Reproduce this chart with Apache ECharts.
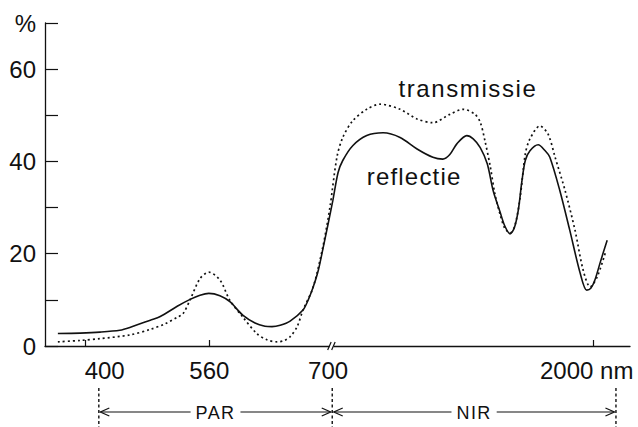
<!DOCTYPE html>
<html>
<head>
<meta charset="utf-8">
<script src="https://cdn.jsdelivr.net/npm/echarts@6/dist/echarts.min.js"></script>
<style>
  html, body { margin: 0; padding: 0; background: #fff; }
  #chart { width: 638px; height: 427px; }
</style>
</head>
<body>
<div id="chart"></div>
<script>
// Horizontal positions are on a schematic 0–100 scale (the wavelength axis is broken at 700 nm).
const reflectiePos = [2.2, 6.0, 9.4, 12.8, 14.5, 18.0, 19.7, 22.6, 24.8, 26.5, 28.0, 29.9, 31.6, 33.8, 35.9,
  37.6, 38.8, 40.2, 41.9, 44.1, 45.0, 45.8, 46.7, 47.5, 48.4, 49.2, 50.1, 50.9, 52.6, 55.0,
  57.8, 60.7, 63.6, 66.3, 68.0, 69.2, 70.4, 72.1, 73.2, 74.4, 75.6, 76.6, 77.8, 78.6, 79.5,
  80.2, 80.9, 81.5, 82.1, 82.9, 84.3, 85.5, 86.3, 88.0, 89.7, 91.5, 92.6, 93.3, 94.0, 95.0, 96.1];
const reflectieVal = [2.7, 2.8, 3.0, 3.4, 4.0, 5.6, 6.4, 8.6, 10.1, 11.0, 11.4, 10.9, 9.6, 6.7, 5.0,
  4.3, 4.2, 4.5, 5.4, 7.8, 10.0, 12.6, 16.3, 21.0, 26.5, 31.5, 37.6, 40.2, 43.4, 45.6,
  46.2, 45.2, 42.7, 40.9, 40.5, 41.5, 43.8, 45.6, 44.9, 43.0, 39.5, 33.7, 29.0, 26.0, 24.3,
  25.5, 29.4, 35.5, 40.2, 42.3, 43.6, 42.3, 40.9, 33.7, 25.1, 15.7, 12.1, 12.5, 14.3, 18.5, 22.9];

const transmissiePos = [2.2, 6.0, 9.4, 14.5, 18.0, 20.5, 22.7, 23.6, 24.8, 26.5, 28.0, 29.9, 31.6, 33.8, 36.2,
  38.0, 39.7, 40.9, 41.9, 43.1, 44.1, 45.8, 47.5, 48.7, 49.9, 50.9, 52.6, 55.0, 57.3, 60.7,
  63.6, 66.3, 69.2, 71.5, 73.5, 74.4, 75.2, 76.1, 76.9, 77.8, 78.6, 79.5, 80.3, 81.2, 82.1,
  82.9, 84.6, 86.0, 87.2, 88.9, 90.6, 92.0, 93.2, 94.4, 95.9];
const transmissieVal = [0.9, 1.2, 1.6, 2.4, 3.6, 4.8, 6.3, 7.0, 10.0, 14.6, 16.0, 14.3, 9.9, 6.3, 2.7,
  1.3, 0.9, 1.2, 2.0, 4.2, 7.8, 12.6, 21.5, 30.0, 40.9, 45.2, 48.8, 51.3, 52.4, 51.3,
  49.2, 48.4, 50.2, 51.3, 50.2, 48.5, 44.5, 39.0, 33.0, 28.5, 25.5, 24.5, 26.0, 32.0, 41.6,
  44.9, 47.7, 45.9, 40.9, 33.7, 25.1, 16.4, 12.8, 15.0, 20.7];

const xTickLabels = ['400', '560', '700', '2000 nm'];
const xTickLabelPos = [10.2, 28.1, 48.4, 92.6];
const xTickMarkPos = [6.8, 28.1, 93.7];
const axisBreakPos = 49.0;

const yLabelValues = [0, 20, 40, 60];
const yUnitLabel = '%';

const bandNames = ['PAR', 'NIR'];
const bandStart = [9.2, 49.1];
const bandEnd = [49.1, 97.6];

const seriesLabels = ['transmissie', 'reflectie'];
const seriesLabelAnchor = [[72.3, 55.9], [63.1, 36.7]];

const INK = '#111';
const NUM_FONT = '"Liberation Sans", Arial, sans-serif';

const zip = (xs, ys) => xs.map((x, i) => [x, ys[i]]);

const chart = echarts.init(document.getElementById('chart'), null, { renderer: 'svg' });

chart.setOption({
  animation: false,
  backgroundColor: '#fff',
  grid: { left: 45, right: 8, top: 23, bottom: 81, outerBoundsMode: 'none' },
  xAxis: {
    type: 'value', min: 0, max: 100,
    axisLine: { show: true, lineStyle: { color: INK, width: 1.3 } },
    axisTick: { show: true, inside: true, length: 6, customValues: xTickMarkPos,
      lineStyle: { color: INK, width: 1.2 } },
    axisLabel: {
      customValues: xTickLabelPos, margin: 12, color: INK,
      fontFamily: NUM_FONT, fontSize: 24,
      formatter: v => {
        let best = 0;
        xTickLabelPos.forEach((p, i) => { if (Math.abs(p - v) < Math.abs(xTickLabelPos[best] - v)) best = i; });
        return xTickLabels[best];
      }
    },
    splitLine: { show: false }
  },
  yAxis: {
    type: 'value', min: 0, max: 70, interval: 10,
    axisLine: { show: true, lineStyle: { color: INK, width: 1.3 } },
    axisTick: { show: true, inside: true, length: 13, lineStyle: { color: INK, width: 1.2 } },
    axisLabel: {
      margin: 9, color: INK, fontFamily: NUM_FONT, fontSize: 24,
      formatter: v => v === 70 ? yUnitLabel : (yLabelValues.includes(v) ? String(v) : '')
    },
    splitLine: { show: false }
  },
  series: [
    {
      name: 'transmissie', type: 'line', data: zip(transmissiePos, transmissieVal),
      smooth: 0.3, showSymbol: false, silent: true,
      lineStyle: { color: INK, width: 1.7, type: [2, 3] }
    },
    {
      name: 'reflectie', type: 'line', data: zip(reflectiePos, reflectieVal),
      smooth: 0.3, showSymbol: false, silent: true,
      lineStyle: { color: INK, width: 1.6 }
    }
  ]
});

// Annotations placed through the axis scales
const toPx = (u, v) => chart.convertToPixel({ gridIndex: 0 }, [u, v]);
const measure = (text, font) => {
  const ctx = document.createElement('canvas').getContext('2d');
  ctx.font = font;
  return ctx.measureText(text).width;
};

const graphics = [];

// Axis break marks at 700 nm
const [bx, by] = toPx(axisBreakPos, 0);
graphics.push({ type: 'rect', shape: { x: bx - 2, y: by - 2, width: 4, height: 4 }, style: { fill: '#fff' }, z: 100 });
[-2, 2].forEach(d => graphics.push({
  type: 'line', z: 101,
  shape: { x1: bx + d - 2, y1: by + 4, x2: bx + d + 1.5, y2: by - 4 },
  style: { stroke: INK, lineWidth: 1.2 }
}));

// Curve names
seriesLabels.forEach((t, i) => {
  const [x, y] = toPx(seriesLabelAnchor[i][0], seriesLabelAnchor[i][1]);
  graphics.push({
    type: 'text', x, y, z: 100,
    style: { text: t, fill: INK, font: '24px ' + NUM_FONT, align: 'center', verticalAlign: 'middle' }
  });
});

// Spectral bands below the axis
const bandArrowY = 412, bandTop = 388, bandBottom = 427;
const bandFont = '18px ' + NUM_FONT;
const bandSpacing = 1.4;
const edges = [...new Set(bandStart.concat(bandEnd))];
edges.forEach(u => {
  const x = toPx(u, 0)[0];
  graphics.push({ type: 'line', shape: { x1: x, y1: bandTop, x2: x, y2: bandBottom },
    style: { stroke: INK, lineWidth: 1.4, lineDash: [3, 2.5] } });
});
bandNames.forEach((name, i) => {
  const x0 = toPx(bandStart[i], 0)[0] + 1.5;
  const x1 = toPx(bandEnd[i], 0)[0] - 1.5;
  const xm = (x0 + x1) / 2;
  const half = (measure(name, bandFont) + bandSpacing * name.length) / 2 + 5;
  const y = bandArrowY;
  graphics.push({ type: 'text', x: xm, y: y + 1,
    style: { text: name, fill: INK, font: bandFont, align: 'center', verticalAlign: 'middle' } });
  graphics.push({ type: 'line', shape: { x1: x0, y1: y, x2: xm - half, y2: y }, style: { stroke: INK, lineWidth: 1.2 } });
  graphics.push({ type: 'line', shape: { x1: xm + half, y1: y, x2: x1, y2: y }, style: { stroke: INK, lineWidth: 1.2 } });
  graphics.push({ type: 'polyline', shape: { points: [[x0 + 9, y - 4], [x0, y], [x0 + 9, y + 4]] },
    style: { stroke: INK, lineWidth: 1.2, fill: null } });
  graphics.push({ type: 'polyline', shape: { points: [[x1 - 9, y - 4], [x1, y], [x1 - 9, y + 4]] },
    style: { stroke: INK, lineWidth: 1.2, fill: null } });
});

chart.setOption({ graphic: graphics });

// The lettering of the word labels is set a little wider than the numerals
const spacing = { transmissie: '1.6px', reflectie: '1.2px', PAR: bandSpacing + 'px', NIR: bandSpacing + 'px' };
document.querySelectorAll('#chart svg text').forEach(el => {
  const s = spacing[el.textContent.trim()];
  if (s) el.style.letterSpacing = s;
});
</script>
</body>
</html>
